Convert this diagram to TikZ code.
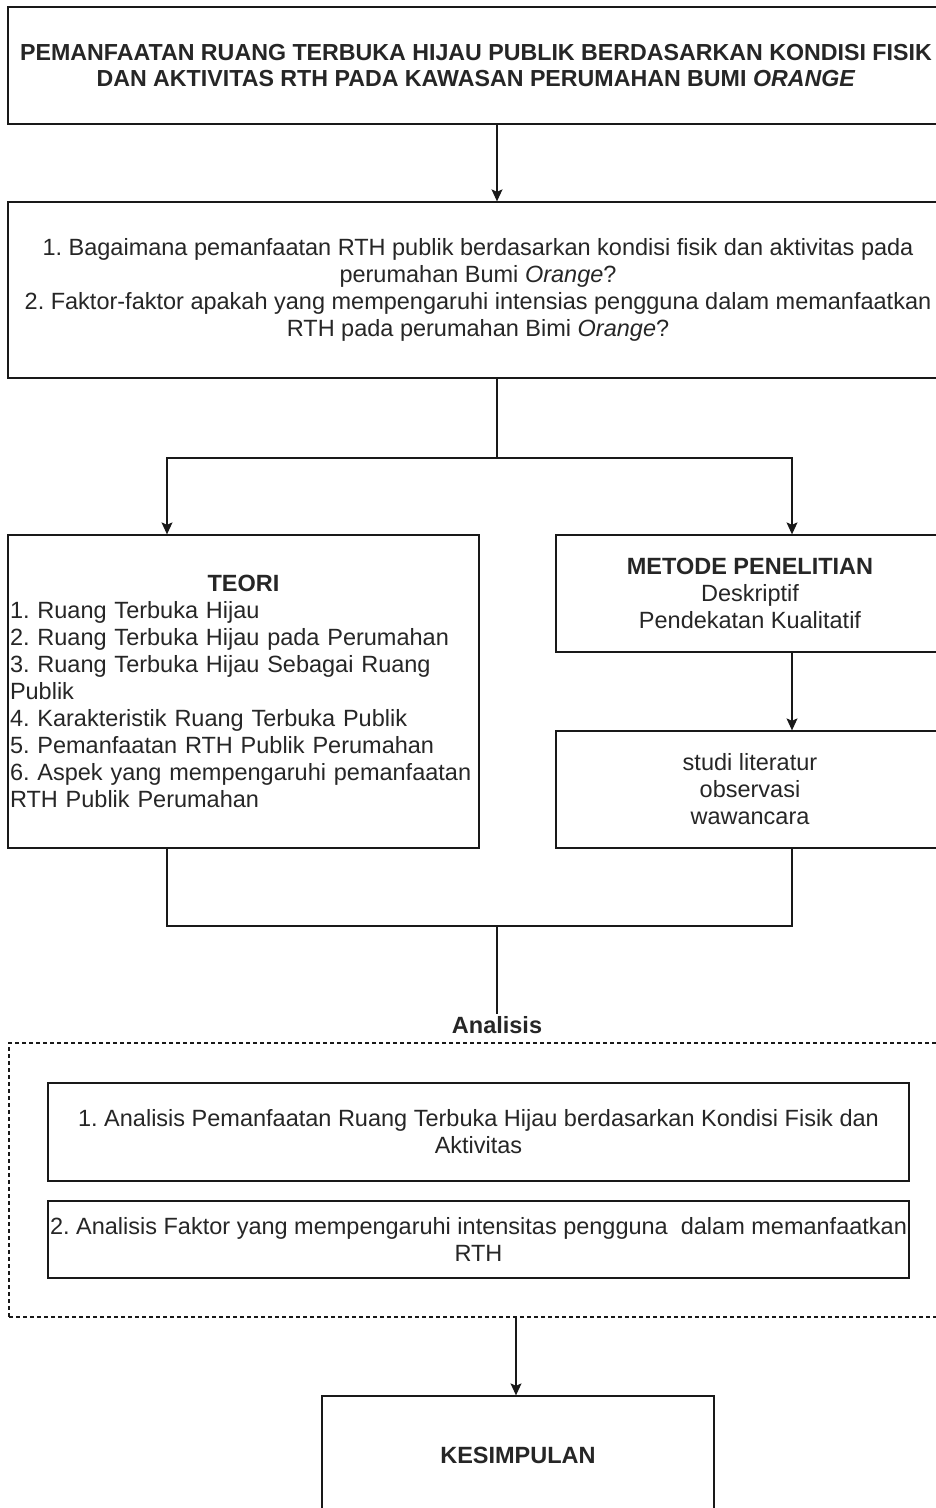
\documentclass[tikz,border=0pt]{standalone}
\usepackage{fontspec}
\setmainfont{Liberation Sans}
\usetikzlibrary{arrows.meta}
\frenchspacing
\begin{document}
\begin{tikzpicture}[x=1pt,y=-1pt,
  box/.style={draw=black!90,line width=1.3pt,rectangle,inner sep=0pt,align=center,text=black!85,
    font=\fontsize{23.5}{27}\selectfont},
  lbl/.style={inner sep=2pt,text=black!85,font=\fontsize{23.5}{27}\selectfont\bfseries},
  conn/.style={draw=black!90,line width=1.3pt},
  arr/.style={conn,-{Stealth[length=12pt,width=11pt,inset=2.5pt]}},
  dbox/.style={draw=black!90,line width=1.1pt,dash pattern=on 4pt off 3pt,rectangle,inner sep=0pt}]
\useasboundingbox (0,0) rectangle (936,1508);
\clip (0,0) rectangle (936,1508);
\fill[white] (0,0) rectangle (936,1508);

\coordinate (ax) at (497,0);
\coordinate (lx) at (167,0);
\coordinate (rx) at (792,0);
\coordinate (kx) at (516,0);

\node[box,minimum width=936,minimum height=117,font=\fontsize{23.2}{26.5}\selectfont] (b1) at (476,65.5)
  {\bfseries PEMANFAATAN RUANG TERBUKA HIJAU PUBLIK BERDASARKAN KONDISI FISIK\\
   \bfseries DAN AKTIVITAS RTH PADA KAWASAN PERUMAHAN BUMI \textit{ORANGE}};

\node[box,minimum width=940,minimum height=176] (b2) at (478,290)
  {1. Bagaimana pemanfaatan RTH publik berdasarkan kondisi fisik dan aktivitas pada\\
   perumahan Bumi \textit{Orange}?\\
   2. Faktor-faktor apakah yang mempengaruhi intensias pengguna dalam memanfaatkan\\
   RTH pada perumahan Bimi \textit{Orange}?};

\node[box,minimum width=471,minimum height=313,text width=467,align=left] (teori) at (243.5,691.5)
  {\makebox[\linewidth]{\bfseries TEORI}\\
   1. Ruang Terbuka Hijau\\
   2. Ruang Terbuka Hijau pada Perumahan\\
   3. Ruang Terbuka Hijau Sebagai Ruang\\
   Publik\\
   4. Karakteristik Ruang Terbuka Publik\\
   5. Pemanfaatan RTH Publik Perumahan\\
   6. Aspek yang mempengaruhi pemanfaatan\\
   RTH Publik Perumahan};

\node[box,minimum width=388,minimum height=117] (metode) at (750,593.5)
  {\bfseries METODE PENELITIAN\\ Deskriptif\\ Pendekatan Kualitatif};

\node[box,minimum width=388,minimum height=117] (studi) at (750,789.5)
  {studi literatur\\ observasi\\ wawancara};

\node[lbl] (an) at (497,1025) {Analisis};
\node[dbox,minimum width=939,minimum height=274] (grp) at (478.5,1180) {};

\node[box,minimum width=861,minimum height=98] (a1) at (478.5,1132)
  {1. Analisis Pemanfaatan Ruang Terbuka Hijau berdasarkan Kondisi Fisik dan\\ Aktivitas};
\node[box,minimum width=861,minimum height=77] (a2) at (478.5,1239.5)
  {2. Analisis Faktor yang mempengaruhi intensitas pengguna\ \ dalam memanfaatkan\\ RTH};

\node[box,minimum width=392,minimum height=118] (kes) at (518,1455)
  {\bfseries KESIMPULAN};

\coordinate (s1) at (497,458);
\coordinate (j1) at (497,926);

\draw[arr] (b1.south -| ax) -- (b2.north -| ax);
\draw[conn] (b2.south -| ax) -- (s1);
\draw[arr] (s1) -| (teori.north -| lx);
\draw[arr] (s1) -| (metode.north -| rx);
\draw[arr] (metode.south -| rx) -- (studi.north -| rx);
\draw[conn] (teori.south -| lx) |- (j1);
\draw[conn] (studi.south -| rx) |- (j1);
\draw[conn] (j1) -- (an.north);
\draw[arr] (grp.south -| kx) -- (kes.north -| kx);
\end{tikzpicture}
\end{document}
